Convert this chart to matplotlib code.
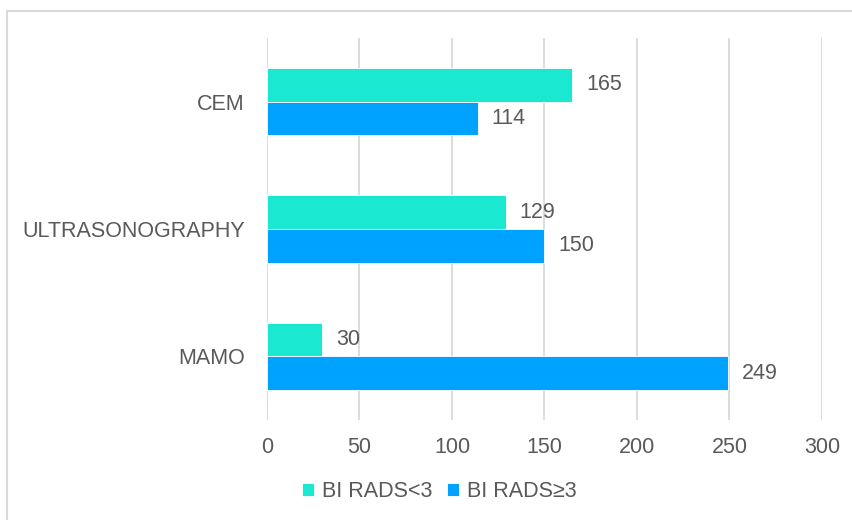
import matplotlib.pyplot as plt
import numpy as np
from matplotlib.lines import Line2D

plt.rcParams['font.family'] = ['Liberation Sans', 'DejaVu Sans']

# data (bottom to top)
categories = ['MAMO', 'ULTRASONOGRAPHY', 'CEM']
birads_lt3 = [30, 129, 165]
birads_ge3 = [249, 150, 114]
series_names = ['BI RADS<3', 'BI RADS\u22653']

teal = '#1AE8D0'
blue = '#00A2FF'
txt = '#595959'

fig = plt.figure(figsize=(8.53, 5.2), dpi=100)
ax = fig.add_axes([0.313, 0.192, 0.6505, 0.735])

y = np.arange(len(categories))
h = 0.265
b1 = ax.barh(y + h / 2, birads_lt3, height=h, color=teal, edgecolor='#ffffff', linewidth=0.6, label=series_names[0], zorder=3)
b2 = ax.barh(y - h / 2, birads_ge3, height=h, color=blue, edgecolor='#ffffff', linewidth=0.6, label=series_names[1], zorder=3)

for bars in (b1, b2):
    ax.bar_label(bars, padding=10, fontsize=15.5, color=txt)

ax.set_xlim(0, 300)
ax.set_ylim(-0.5, 2.5)
ax.set_xticks(range(0, 301, 50))
ax.set_yticks(y)
ax.set_yticklabels(categories)
ax.tick_params(axis='both', length=0, labelsize=15.5, labelcolor=txt)
ax.tick_params(axis='x', pad=12)
ax.tick_params(axis='y', pad=16)
ax.grid(axis='x', color='#d9d9d9', linewidth=1.3, zorder=0)
for s in ax.spines.values():
    s.set_visible(False)

ax.legend(loc='center', bbox_to_anchor=(0.515, 0.054), bbox_transform=fig.transFigure,
          ncol=2, frameon=False, fontsize=15.5, labelcolor=txt, handlelength=0.55,
          handleheight=0.55, handletextpad=0.35, columnspacing=0.7)

# outer chart frame (only top and left visible in crop)
fig.add_artist(Line2D([0.008, 1.0], [0.979, 0.979], color='#d9d9d9', linewidth=1.5, transform=fig.transFigure))
fig.add_artist(Line2D([0.008, 0.008], [0.0, 0.979], color='#d9d9d9', linewidth=1.5, transform=fig.transFigure))

fig.savefig('out.png', dpi=100)
